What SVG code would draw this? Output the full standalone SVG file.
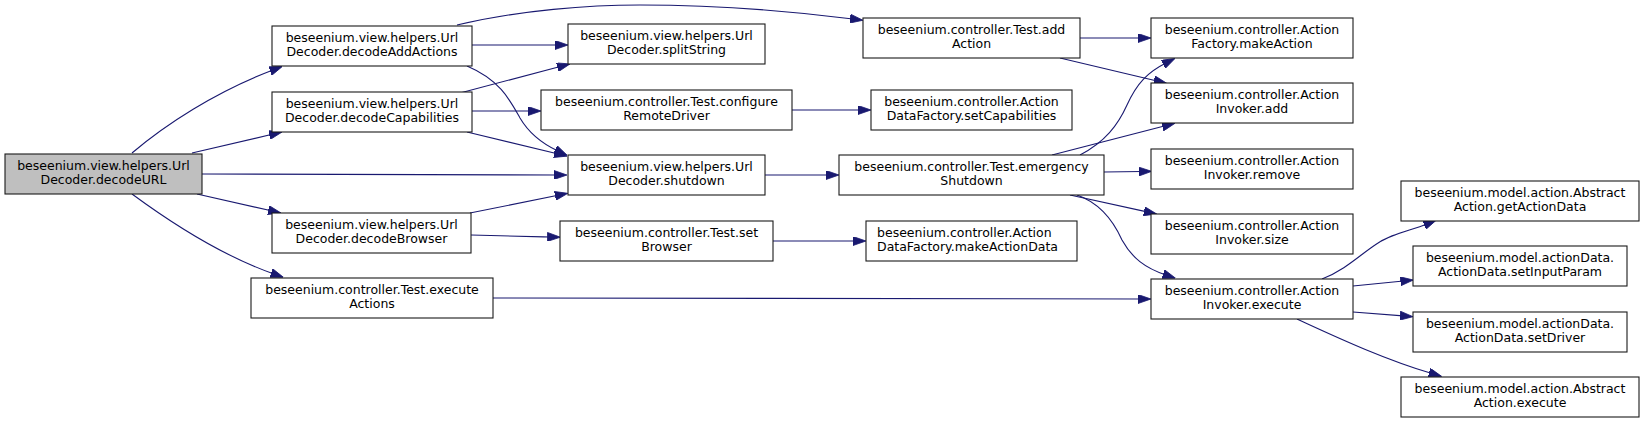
<svg xmlns="http://www.w3.org/2000/svg" width="1645" height="423" viewBox="0 0 1645 423">
<style>
.n rect{fill:#ffffff;stroke:#1a1a1a;stroke-width:1.1}
.n.root rect{fill:#bfbfbf}
.n text{font-family:"DejaVu Sans","Liberation Sans",sans-serif;font-size:12.5px;fill:#000000;text-anchor:middle}
.e path{fill:none;stroke:#191970;stroke-width:1.1;marker-end:url(#a)}
</style>
<defs>
<marker id="a" viewBox="0 0 13 9" refX="3" refY="4.5" markerWidth="13" markerHeight="9" markerUnits="userSpaceOnUse" orient="auto">
<path d="M0,0 L13,4.5 L0,9 z" fill="#191970" stroke="#191970" stroke-width="0.8"/>
</marker>
</defs>
<rect width="1645" height="423" fill="#ffffff"/>
<g id="connectors" class="e">
<path d="M132,153 C165,125 215,92 273,70"/>
<path d="M192,153 L272.3,134.3"/>
<path d="M202,174 L557,175"/>
<path d="M197,194 L271.3,210.8"/>
<path d="M132,194 C170,222 220,255 274,274"/>
<path d="M457,25 C520,10 590,5 640,5 C720,5 790,11 853,19"/>
<path d="M472,45 L558,45"/>
<path d="M467,66 C500,80 510,100 520,118 C530,135 545,145 558,151"/>
<path d="M460,93 L560.3,66.5"/>
<path d="M472,111 L531,111"/>
<path d="M467,132 L557.3,153.8"/>
<path d="M470,213 L558,195.3"/>
<path d="M471,235 C500,235.5 525,236.5 550.4,237"/>
<path d="M493,298 C700,298 950,299 1141,299"/>
<path d="M792,110 L861,110"/>
<path d="M765,175 L829,175"/>
<path d="M773,241 L856,241"/>
<path d="M1080,38 L1141,38"/>
<path d="M1060,58 L1157,81"/>
<path d="M1080,155 C1105,142 1118,125 1127,105 C1137,83 1148,72 1166,63"/>
<path d="M1052,155 L1165.3,125.8"/>
<path d="M1104,172 L1141.7,171.5"/>
<path d="M1070,195 L1147,211.9"/>
<path d="M1077,195 C1100,203 1113,220 1122,240 C1132,258 1145,268 1166,275"/>
<path d="M1322,279 C1345,270 1360,255 1375,245 C1392,233 1410,231 1427,224"/>
<path d="M1353,286 L1403.4,281"/>
<path d="M1353,312 L1403,315.9"/>
<path d="M1297,319 C1330,334 1380,358 1432,373.5"/>
</g>
<g id="decodeURL" class="n root"><rect x="5" y="154" width="197" height="40"/><text x="103.5" y="169.5">beseenium.view.helpers.Url</text><text x="103.5" y="184">Decoder.decodeURL</text></g>
<g id="decodeAddActions" class="n"><rect x="272" y="26" width="200" height="40"/><text x="372" y="41.5">beseenium.view.helpers.Url</text><text x="372" y="56">Decoder.decodeAddActions</text></g>
<g id="decodeCapabilities" class="n"><rect x="272" y="92" width="200" height="40"/><text x="372" y="107.5">beseenium.view.helpers.Url</text><text x="372" y="122">Decoder.decodeCapabilities</text></g>
<g id="decodeBrowser" class="n"><rect x="272" y="213" width="199" height="40"/><text x="371.5" y="228.5">beseenium.view.helpers.Url</text><text x="371.5" y="243">Decoder.decodeBrowser</text></g>
<g id="executeActions" class="n"><rect x="251" y="278" width="242" height="40"/><text x="372" y="293.5">beseenium.controller.Test.execute</text><text x="372" y="308">Actions</text></g>
<g id="splitString" class="n"><rect x="568" y="24" width="197" height="40"/><text x="666.5" y="39.5">beseenium.view.helpers.Url</text><text x="666.5" y="54">Decoder.splitString</text></g>
<g id="configureRemoteDriver" class="n"><rect x="541" y="90" width="251" height="40"/><text x="666.5" y="105.5">beseenium.controller.Test.configure</text><text x="666.5" y="120">RemoteDriver</text></g>
<g id="shutdown" class="n"><rect x="568" y="155" width="197" height="40"/><text x="666.5" y="170.5">beseenium.view.helpers.Url</text><text x="666.5" y="185">Decoder.shutdown</text></g>
<g id="setBrowser" class="n"><rect x="560" y="221" width="213" height="40"/><text x="666.5" y="236.5">beseenium.controller.Test.set</text><text x="666.5" y="251">Browser</text></g>
<g id="addAction" class="n"><rect x="863" y="18" width="217" height="40"/><text x="971.5" y="33.5">beseenium.controller.Test.add</text><text x="971.5" y="48">Action</text></g>
<g id="setCapabilities" class="n"><rect x="871" y="90" width="201" height="40"/><text x="971.5" y="105.5">beseenium.controller.Action</text><text x="971.5" y="120">DataFactory.setCapabilities</text></g>
<g id="emergencyShutdown" class="n"><rect x="839" y="155" width="265" height="40"/><text x="971.5" y="170.5">beseenium.controller.Test.emergency</text><text x="971.5" y="185">Shutdown</text></g>
<g id="makeActionData" class="n"><rect x="866" y="221" width="211" height="40"/><text x="877" y="236.5" style="text-anchor:start">beseenium.controller.Action</text><text x="877" y="251" style="text-anchor:start">DataFactory.makeActionData</text></g>
<g id="makeAction" class="n"><rect x="1151" y="18" width="202" height="40"/><text x="1252" y="33.5">beseenium.controller.Action</text><text x="1252" y="48">Factory.makeAction</text></g>
<g id="invokerAdd" class="n"><rect x="1151" y="83" width="202" height="40"/><text x="1252" y="98.5">beseenium.controller.Action</text><text x="1252" y="113">Invoker.add</text></g>
<g id="invokerRemove" class="n"><rect x="1151" y="149" width="202" height="40"/><text x="1252" y="164.5">beseenium.controller.Action</text><text x="1252" y="179">Invoker.remove</text></g>
<g id="invokerSize" class="n"><rect x="1151" y="214" width="202" height="40"/><text x="1252" y="229.5">beseenium.controller.Action</text><text x="1252" y="244">Invoker.size</text></g>
<g id="invokerExecute" class="n"><rect x="1151" y="279" width="202" height="40"/><text x="1252" y="294.5">beseenium.controller.Action</text><text x="1252" y="309">Invoker.execute</text></g>
<g id="getActionData" class="n"><rect x="1401" y="181" width="238" height="40"/><text x="1520" y="196.5">beseenium.model.action.Abstract</text><text x="1520" y="211">Action.getActionData</text></g>
<g id="setInputParam" class="n"><rect x="1413" y="246" width="214" height="40"/><text x="1520" y="261.5">beseenium.model.actionData.</text><text x="1520" y="276">ActionData.setInputParam</text></g>
<g id="setDriver" class="n"><rect x="1413" y="312" width="214" height="40"/><text x="1520" y="327.5">beseenium.model.actionData.</text><text x="1520" y="342">ActionData.setDriver</text></g>
<g id="abstractExecute" class="n"><rect x="1401" y="377" width="238" height="40"/><text x="1520" y="392.5">beseenium.model.action.Abstract</text><text x="1520" y="407">Action.execute</text></g>
</svg>
